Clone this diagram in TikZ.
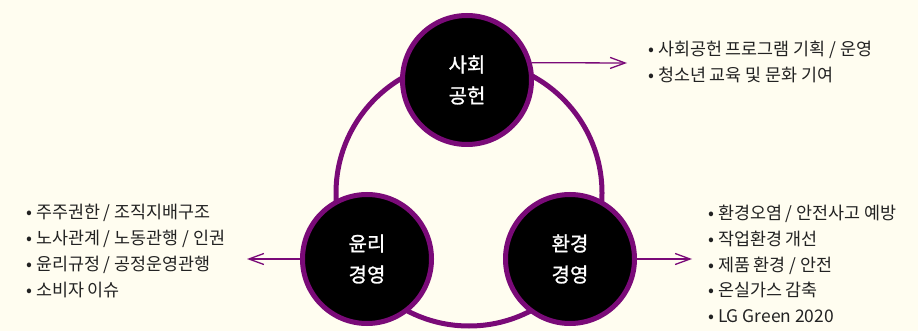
\documentclass[tikz,border=0pt]{standalone}
\usepackage{fontspec}
\setmainfont{Noto Sans CJK KR}
\newfontfamily\pillarfont[FakeBold=1.2]{Noto Sans CJK KR}
\usepackage{xcolor}
\usetikzlibrary{arrows.meta}
\definecolor{cream}{HTML}{FFFDF0}
\definecolor{plum}{HTML}{7A0A78}
\definecolor{ink}{HTML}{222222}

\begin{document}
\begin{tikzpicture}[x=1pt, y=-1pt,
  pillar/.style={circle, draw=plum, line width=5pt, fill=black, minimum size=129pt, inner sep=0pt,
    text=white, align=center, font=\pillarfont\fontsize{20}{31}\selectfont},
  itemlist/.style={anchor=west, text=ink, align=left, inner sep=0pt, font=\fontsize{17.4}{25.8}\selectfont},
  link/.style={draw=plum, line width=1.3pt, -{Straight Barb[length=15pt, width=11pt]}}]
\fill[cream] (0,0) rectangle (918,331);

% ring behind the three circles
\draw[plum, line width=5pt] (469,193) circle[radius=133];

\node[pillar] (social) at (467,80) {사회\\공헌};
\node[pillar] (ethics) at (367,259) {윤리\\경영};
\node[pillar] (environ) at (570,259) {환경\\경영};

\coordinate (socialtip) at (627,63);
\coordinate (ethicstip) at (247,259);
\coordinate (environtip) at (692,259);

\draw[link] (social.15) -- (socialtip);
\draw[link] (ethics.west) -- (ethicstip);
\draw[link] (environ.east) -- (environtip);

\node[itemlist] (sociallist) at (648,62) {• 사회공헌 프로그램 기획 / 운영\\• 청소년 교육 및 문화 기여};
\node[itemlist] (ethicslist) at (26,251) {• 주주권한 / 조직지배구조\\• 노사관계 / 노동관행 / 인권\\• 윤리규정 / 공정운영관행\\• 소비자 이슈};
\node[itemlist] (environlist) at (708,264) {• 환경오염 / 안전사고 예방\\• 작업환경 개선\\• 제품 환경 / 안전\\• 온실가스 감축\\• LG Green 2020};
\end{tikzpicture}
\end{document}
